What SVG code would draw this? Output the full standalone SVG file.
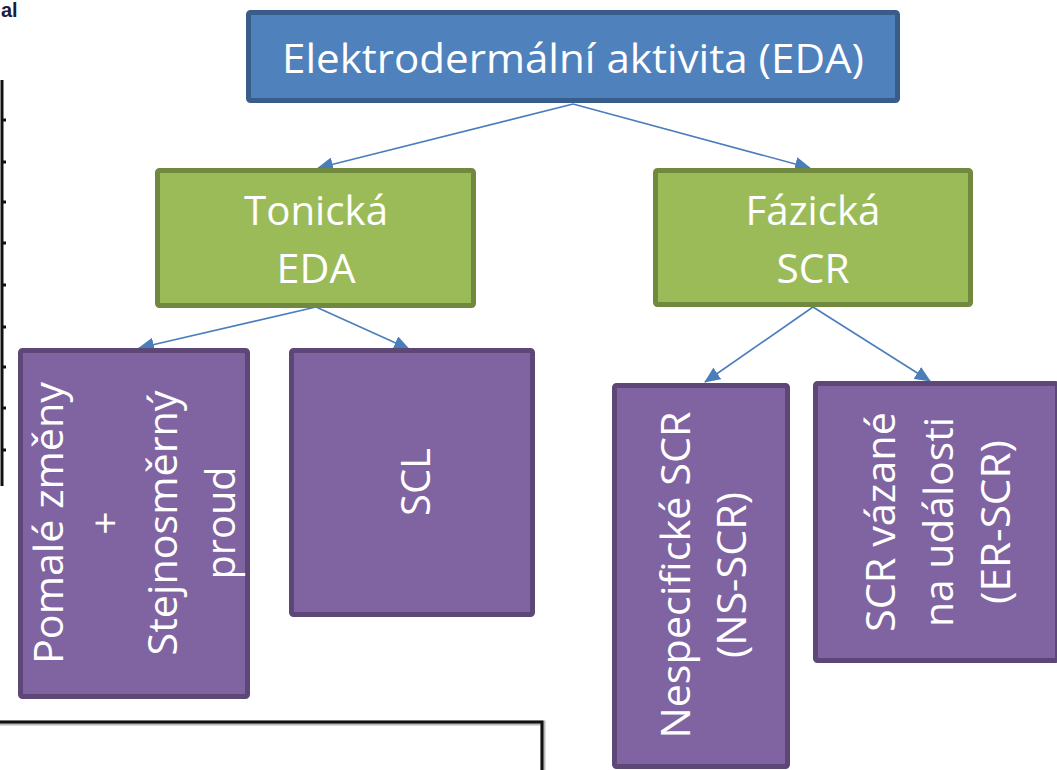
<svg xmlns="http://www.w3.org/2000/svg" width="1057" height="770" viewBox="0 0 1057 770">
<defs>
<style>
.t{font-family:"Open Sans","Noto Sans","Liberation Sans",sans-serif;font-size:41px;fill:#ffffff;text-anchor:middle}
.blue{fill:#4F81BD;stroke:#385D8A;stroke-width:5}
.green{fill:#9BBB59;stroke:#71893F;stroke-width:5}
.purple{fill:#8064A2;stroke:#5C4776;stroke-width:5}
.conn{stroke:#4A7EBB;stroke-width:1.6;fill:none;marker-end:url(#ah)}
.bg{stroke:#111;fill:none}
</style>
<marker id="ah" markerUnits="userSpaceOnUse" markerWidth="16" markerHeight="14" refX="15" refY="7" orient="auto">
<path d="M0,0 L16,7 L0,14 Z" fill="#4A7EBB"/>
</marker>
</defs>
<rect width="1057" height="770" fill="#ffffff"/>
<g id="background">
<text x="1" y="17" font-family="Liberation Sans, Arial, sans-serif" font-size="20" font-weight="bold" fill="#1c1c3c">al</text>
<line class="bg" x1="2" y1="80" x2="2" y2="486" stroke-width="3"/>
<g stroke="#111" stroke-width="3">
<line x1="2" y1="120" x2="6" y2="120"/><line x1="2" y1="162" x2="6" y2="162"/><line x1="2" y1="202" x2="6" y2="202"/>
<line x1="2" y1="243" x2="6" y2="243"/><line x1="2" y1="285" x2="6" y2="285"/><line x1="2" y1="327" x2="6" y2="327"/>
<line x1="2" y1="367" x2="6" y2="367"/><line x1="2" y1="408" x2="6" y2="408"/><line x1="2" y1="450" x2="6" y2="450"/>
</g>
<path d="M0,723 H543 V770" fill="none" stroke="#bbb" stroke-width="5"/>
<path d="M0,722 H542 V770" class="bg" stroke-width="3"/>
</g>
<g id="connectors">
<line class="conn" x1="573" y1="104" x2="318" y2="168"/>
<line class="conn" x1="573" y1="104" x2="810" y2="168"/>
<line class="conn" x1="316" y1="307" x2="139" y2="348"/>
<line class="conn" x1="316" y1="307" x2="409" y2="349"/>
<line class="conn" x1="813" y1="307" x2="705" y2="382"/>
<line class="conn" x1="813" y1="307" x2="930" y2="381"/>
</g>
<g id="eda">
<rect class="blue" x="248.5" y="12.5" width="649" height="88" rx="2"/>
<text class="t" x="573" y="73" textLength="582" lengthAdjust="spacingAndGlyphs">Elektrodermální aktivita (EDA)</text>
</g>
<g id="tonicka">
<rect class="green" x="157.5" y="170.5" width="316" height="135" rx="2"/>
<text class="t" x="316" y="225" textLength="144" lengthAdjust="spacingAndGlyphs">Tonická</text>
<text class="t" x="316" y="283" textLength="79" lengthAdjust="spacingAndGlyphs">EDA</text>
</g>
<g id="fazicka">
<rect class="green" x="655.5" y="170.5" width="315" height="134" rx="2"/>
<text class="t" x="813" y="225" textLength="135" lengthAdjust="spacingAndGlyphs">Fázická</text>
<text class="t" x="813" y="283" textLength="73" lengthAdjust="spacingAndGlyphs">SCR</text>
</g>
<g id="pomale">
<rect class="purple" x="20.5" y="350.5" width="227" height="346" rx="2"/>
<g transform="translate(134,523) rotate(-90)">
<text class="t" x="0" y="-71" textLength="282" lengthAdjust="spacingAndGlyphs">Pomalé změny</text>
<text class="t" x="0" y="-14">+</text>
<text class="t" x="0" y="43" textLength="265" lengthAdjust="spacingAndGlyphs">Stejnosměrný</text>
<text class="t" x="0" y="101" textLength="113" lengthAdjust="spacingAndGlyphs">proud</text>
</g>
</g>
<g id="scl">
<rect class="purple" x="291.5" y="350.5" width="241" height="264" rx="2"/>
<g transform="translate(412,482) rotate(-90)">
<text class="t" x="0" y="18" textLength="68" lengthAdjust="spacingAndGlyphs">SCL</text>
</g>
</g>
<g id="ns-scr">
<rect class="purple" x="614.5" y="385.5" width="173" height="381" rx="2"/>
<g transform="translate(701,575) rotate(-90)">
<text class="t" x="0" y="-11" textLength="327" lengthAdjust="spacingAndGlyphs">Nespecifické SCR</text>
<text class="t" x="0" y="45" textLength="166" lengthAdjust="spacingAndGlyphs">(NS-SCR)</text>
</g>
</g>
<g id="er-scr">
<rect class="purple" x="815.5" y="383.5" width="242" height="277" rx="2"/>
<g transform="translate(936,522) rotate(-90)">
<text class="t" x="0" y="-41" textLength="220" lengthAdjust="spacingAndGlyphs">SCR vázané</text>
<text class="t" x="0" y="17" textLength="210" lengthAdjust="spacingAndGlyphs">na události</text>
<text class="t" x="0" y="74" textLength="164" lengthAdjust="spacingAndGlyphs">(ER-SCR)</text>
</g>
</g>
</svg>
